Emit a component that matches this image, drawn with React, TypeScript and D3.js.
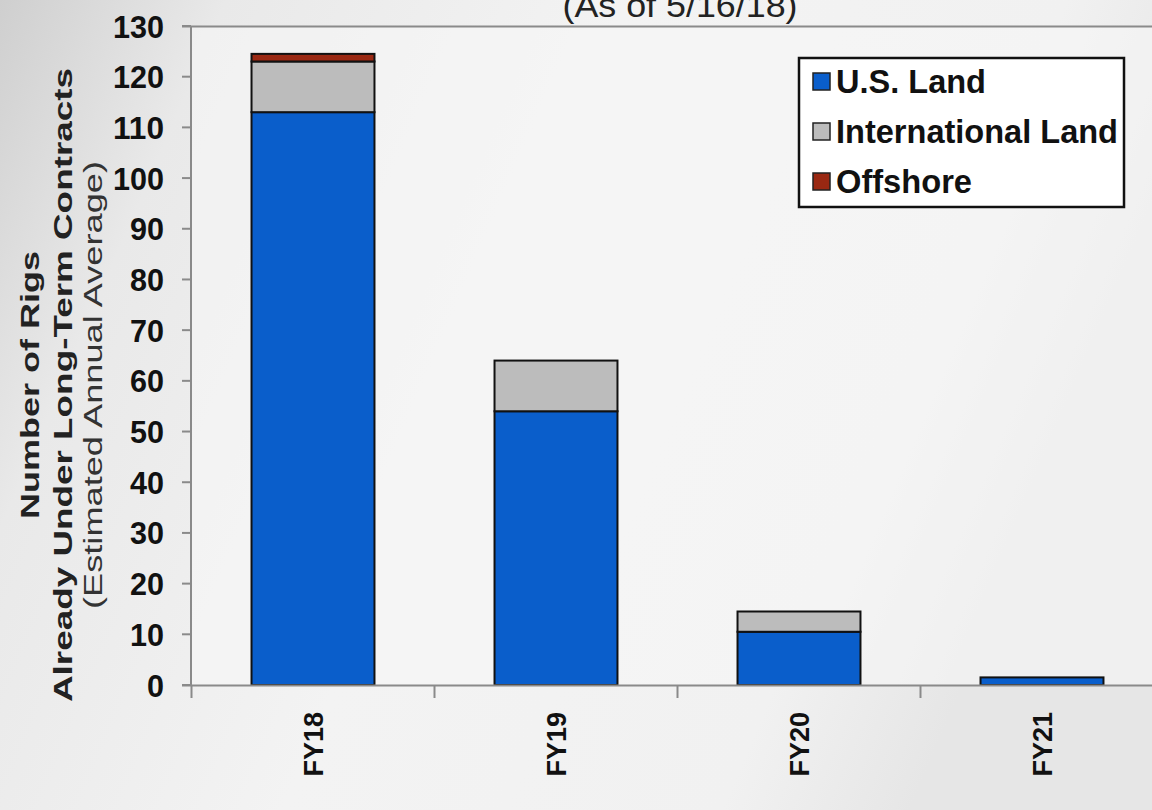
import React from "react";
import * as d3 from "d3";

const categories = ["FY18", "FY19", "FY20", "FY21"];
const usLand = [113, 54, 10.5, 1.5];
const intlLand = [10, 10, 4, 0];
const offshore = [1.5, 0, 0, 0];
const seriesNames = ["U.S. Land", "International Land", "Offshore"];
const seriesColors = ["#0a5ecb", "#bcbcbc", "#9a2812"];
const yTicks = [0, 10, 20, 30, 40, 50, 60, 70, 80, 90, 100, 110, 120, 130];

const W = 1152;
const H = 810;

export default function App() {
  const y = d3.scaleLinear().domain([0, 130]).range([685, 26]);
  const x = d3.scaleBand<string>().domain(categories).range([191.5, 1163.5]).padding(0);
  const bw = x.bandwidth();
  const barW = bw * 0.506;

  const rows = categories.map((c, i) => ({
    cat: c,
    vals: [usLand[i], intlLand[i], offshore[i]],
  }));
  const stack = d3.stack<any>().keys([0, 1, 2] as any).value((d: any, k: any) => d.vals[k]);
  const stacked = stack(rows as any);

  const font = "'Liberation Sans', Arial, sans-serif";

  return (
    <div style={{ position: "absolute", left: 0, top: 0, width: W, height: H, overflow: "hidden" }}>
      <svg width={W} height={H} style={{ display: "block" }}>
        <defs>
          <linearGradient id="bg" x1="0" y1="0" x2="1" y2="0.3">
            <stop offset="0" stopColor="#cfcfcf" />
            <stop offset="0.18" stopColor="#e9e9e9" />
            <stop offset="0.5" stopColor="#f3f3f3" />
            <stop offset="0.85" stopColor="#f1f1f1" />
            <stop offset="1" stopColor="#e6e6e6" />
          </linearGradient>
        </defs>
        <rect x={0} y={0} width={W} height={H} fill="url(#bg)" />
        <rect x={191} y={26} width={W - 191} height={659} fill="#f6f6f6" opacity={0.6} />

        {/* title (cut off at top) */}
        <text x={680} y={17} textAnchor="middle" fontFamily={font} fontSize={34} fill="#222"
          textLength={235} lengthAdjust="spacingAndGlyphs">(As of 5/16/18)</text>

        {/* plot top border */}
        <line x1={182} x2={W} y1={26.5} y2={26.5} stroke="#8a8a8a" strokeWidth={2} />

        {/* bars */}
        {stacked.map((s: any, si: number) =>
          s.map((d: any, i: number) => {
            const v = d[1] - d[0];
            if (v <= 0) return null;
            const cat = categories[i];
            const x0 = (x(cat) as number) + (bw - barW) / 2;
            return (
              <rect key={`${si}-${i}`} x={x0} y={y(d[1])} width={barW} height={y(d[0]) - y(d[1])}
                fill={seriesColors[si]} stroke="#111" strokeWidth={2} />
            );
          })
        )}

        {/* y axis */}
        <line x1={191} x2={191} y1={26} y2={686} stroke="#8a8a8a" strokeWidth={2} />
        {yTicks.map((t) => (
          <g key={t}>
            <line x1={182} x2={191} y1={y(t)} y2={y(t)} stroke="#8a8a8a" strokeWidth={2} />
            <text x={164} y={y(t)} dy="0.36em" textAnchor="end" fontFamily={font} fontWeight="bold"
              fontSize={32} fill="#111" textLength={String(t).length * 17} lengthAdjust="spacingAndGlyphs">{t}</text>
          </g>
        ))}

        {/* x axis */}
        <line x1={182} x2={W} y1={685.5} y2={685.5} stroke="#8a8a8a" strokeWidth={2} />
        {categories.map((c) => (
          <line key={c} x1={x(c) as number} x2={x(c) as number} y1={685} y2={698} stroke="#8a8a8a" strokeWidth={2} />
        ))}
        {categories.map((c) => {
          const cx = (x(c) as number) + bw / 2;
          return (
            <text key={c} transform={`translate(${cx + 10},712) rotate(-90)`} textAnchor="end"
              fontFamily={font} fontWeight="bold" fontSize={27} fill="#111">{c}</text>
          );
        })}

        {/* y title */}
        <text transform="translate(39,385) rotate(-90)" textAnchor="middle" fontFamily={font} fontWeight="bold"
          fontSize={26} fill="#222" textLength={268} lengthAdjust="spacingAndGlyphs">Number of Rigs</text>
        <text transform="translate(72,385) rotate(-90)" textAnchor="middle" fontFamily={font} fontWeight="bold"
          fontSize={26} fill="#222" textLength={634} lengthAdjust="spacingAndGlyphs">Already Under Long-Term Contracts</text>
        <text transform="translate(102,385) rotate(-90)" textAnchor="middle" fontFamily={font}
          fontSize={25} fill="#333" textLength={448} lengthAdjust="spacingAndGlyphs">(Estimated Annual Average)</text>

        {/* legend */}
        <rect x={799} y={58} width={325} height={149} fill="#ffffff" stroke="#111" strokeWidth={2.5} />
        {seriesNames.map((n, i) => {
          const cy = 81 + i * 50;
          return (
            <g key={n}>
              <rect x={813} y={cy - 8} width={17} height={17} fill={seriesColors[i]} stroke="#222" strokeWidth={1.5} />
              <text x={836} y={cy} dy="0.36em" fontFamily={font} fontWeight="bold" fontSize={33} fill="#111"
                textLength={[150, 282, 136][i]} lengthAdjust="spacingAndGlyphs">{n}</text>
            </g>
          );
        })}
      </svg>
    </div>
  );
}
